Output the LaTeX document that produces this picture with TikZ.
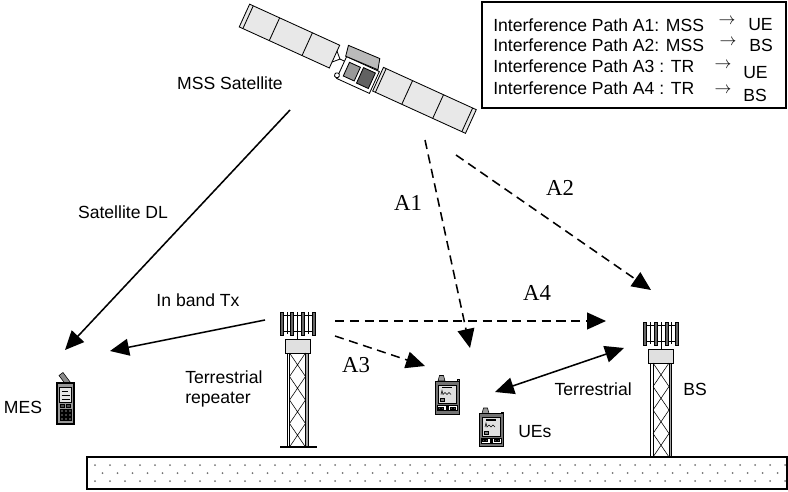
\documentclass[tikz,border=0pt]{standalone}
\usepackage{fontspec}
\setmainfont{Liberation Sans}
\newfontfamily\timesfont{Liberation Serif}
\usetikzlibrary{arrows.meta}

\tikzset{
  pics/mast/.style={code={
    % antenna array
    \draw (-16,3) -- (16,3) (-16,19) -- (16,19);
    \draw (-10.5,0) -- (-10.5,22) (10.5,0) -- (10.5,22);
    \draw (0,0) -- (0,27);
    \foreach \ax in {-16,-5.5,5.5,16}
      \draw[fill=black!60] (\ax-1.5,0) rectangle (\ax+1.5,23);
    % equipment box
    \draw[fill=black!12] (-12.5,27) rectangle (12.5,41);
    % lattice
    \draw[fill=white] (-10.5,41) rectangle (-8,135);
    \draw[fill=black!35] (8,41) rectangle (10.5,135);
    \foreach \ly in {41,64.5,88,111.5}
      \draw (-8,\ly) -- (8,\ly+23.5) (8,\ly) -- (-8,\ly+23.5);
  }},
  pics/pda/.style={code={
    \draw[fill=black!40] (-9,-16.5) -- (-7.5,-22) -- (-3.5,-22) -- (-2,-16.5) -- cycle;
    \draw[fill=black!40] (10,-18) rectangle (12.5,-14);
    \draw[fill=black!55] (-12,-16.5) rectangle (12,16.5);
    \draw[fill=black!12] (-9,-12.5) rectangle (9,6);
    \draw[line width=0.8pt] (-5,-10) -- (5,-10);
    \draw[line width=0.4pt] (-6,-3) -- (-5,-7) -- (-4,-3) -- (-2,-5) -- (0,-3) -- (2,-5) -- (4,-3);
    \draw[fill=black!50] (-7,1) rectangle (-3,4);
    \draw[fill=white] (-10,8) rectangle (10,13);
    \foreach \bx in {-8.5,-5.5,3.5,6.5}
      \draw[fill=black!70] (\bx,9.5) rectangle +(2,2);
    \fill (-1.5,8) rectangle (1.5,13);
  }}
}

\begin{document}
\begin{tikzpicture}[x=0.025cm,y=-0.025cm,
  txt/.style={inner sep=0pt,font=\fontsize{12.5}{14.2}\selectfont},
  alab/.style={inner sep=0pt,font=\timesfont\fontsize{16.2}{18}\selectfont},
  sig/.style={line width=1.1pt,-{Triangle[length=13.5pt,width=12pt]}},
  intf/.style={sig,dash pattern=on 6.5pt off 4pt},
  twoway/.style={line width=1.1pt,{Triangle[length=13.5pt,width=12pt]}-{Triangle[length=13.5pt,width=12pt]}}]

\useasboundingbox (0,0) rectangle (788,492);

% legend
\draw[line width=0.8pt] (482,2) rectangle (786,108);
\node[txt,anchor=base west] (leg1) at (493,31.5) {Interference Path A1: MSS};
\node[txt,anchor=base west] (leg2) at (493,51.5) {Interference Path A2: MSS};
\node[txt,anchor=base west] (leg3) at (493,73) {Interference Path A3 : TR};
\node[txt,anchor=base west] (leg4) at (493,94.5) {Interference Path A4 : TR};
\node[txt] (arr1) at (727,21) {$\rightarrow$};
\node[txt] (arr2) at (728,42) {$\rightarrow$};
\node[txt] (arr3) at (723,65) {$\rightarrow$};
\node[txt] (arr4) at (723,90) {$\rightarrow$};
\node[txt,anchor=west] (to1) at (748,25) {UE};
\node[txt,anchor=west] (to2) at (749,45) {BS};
\node[txt,anchor=west] (to3) at (743,73) {UE};
\node[txt,anchor=west] (to4) at (743,95) {BS};

% satellite
\begin{scope}[shift={(358,75)},rotate=-24.5,line width=0.6pt]
  \draw[fill=black!9] (-128,-19.5) rectangle (-29,5.5);
  \draw (-124,-19.5) -- (-124,5.5) (-95,-19.5) -- (-95,5.5) (-59,-19.5) -- (-59,5.5);
  \draw[fill=black!9] (20,-17.5) rectangle (122,8.5);
  \draw (23,-17.5) -- (23,8.5) (52,-17.5) -- (52,8.5) (86,-17.5) -- (86,8.5) (118,-17.5) -- (118,8.5);
  \draw (-29,-13) -- (-23,-7) -- (-29,-1) (-23,-7) -- (-18,-7);
  \draw[fill=white] (-18,-12) rectangle (18,12);
  \draw[fill=black!27] (-19,-12) -- (16,-13) -- (13,-24) -- (-21,-23) -- cycle;
  \draw[fill=black!40] (-13,-8) rectangle (-1,7);
  \draw[fill=black!62] (2,-9) rectangle (15,8);
  \draw[fill=white] (-19,9) circle (2.5);
\end{scope}

% towers
\pic at (297.5,312) {mast};
\draw[line width=0.8pt] (280,447) -- (317,447);
\pic at (661,322) {mast};

% user terminals
\pic at (447,397.5) {pda};
\pic at (491,430) {pda};

% MES handset
\begin{scope}[shift={(65.5,403.5)}]
  \draw[fill=black!45] (6.5,-19) -- (2.5,-16) -- (-6.5,-28) -- (-2.5,-31) -- cycle;
  \draw[fill=black!40] (5,-21) rectangle (8.5,-17);
  \draw[line width=0.9pt,fill=black!40] (-8.5,-20.5) rectangle (8.5,20.5);
  \draw[fill=black!10] (-6,-16) rectangle (6,-1);
  \draw (-4,-12) -- (2,-12) (-4,-8) -- (4,-8) (-4,-4) -- (4,-4);
  \foreach \bx in {-5,1}
    \draw[fill=black!70] (\bx,1) rectangle +(4,3);
  \foreach \kx in {-5.5,-1.5,2.5}
    \foreach \ky in {6,10,14}
      \draw[fill=black!75] (\kx,\ky) rectangle +(3,3);
\end{scope}

% ground
\draw[line width=0.9pt] (87,457) rectangle (787,489);
\foreach \dx in {95,110,...,785} {
  \fill[black!55] (\dx,465) circle (1);
  \fill[black!55] (\dx,481) circle (1);
}
\foreach \dx in {102.5,117.5,...,780}
  \fill[black!55] (\dx,473) circle (1);

% end points of the links
\coordinate (satdl) at (290,110);
\coordinate (mesdl) at (65,350);
\coordinate (reptx) at (265,320);
\coordinate (mestx) at (110,351);
\coordinate (sata1) at (425,140);
\coordinate (uea1) at (470,348);
\coordinate (sata2) at (456,155);
\coordinate (bsa2) at (651,290);
\coordinate (repa4) at (335,321);
\coordinate (bsa4) at (606,321);
\coordinate (repa3) at (335,336);
\coordinate (uea3) at (425,366);
\coordinate (uet) at (495,392);
\coordinate (bst) at (624,348);

\draw[sig] (satdl) -- (mesdl);
\draw[sig] (reptx) -- (mestx);
\draw[intf] (sata1) -- (uea1);
\draw[intf] (sata2) -- (bsa2);
\draw[intf] (repa4) -- (bsa4);
\draw[intf] (repa3) -- (uea3);
\draw[twoway] (uet) -- (bst);

% labels
\node[txt] (msslbl) at (230,83) {MSS Satellite};
\node[txt] (dllbl) at (123,212) {Satellite DL};
\node[txt] (txlbl) at (198,300) {In band Tx};
\node[txt,anchor=west,align=left] (replbl) at (185,389) {Terrestrial\\repeater};
\node[txt] (meslbl) at (23,407) {MES};
\node[txt,anchor=west] (uelbl) at (518,432) {UEs};
\node[txt,anchor=east] (terlbl) at (632,389) {Terrestrial};
\node[txt,anchor=west] (bslbl) at (683,389) {BS};
\node[alab] (a1) at (408,203) {A1};
\node[alab] (a2) at (560,188) {A2};
\node[alab] (a3) at (356,365) {A3};
\node[alab] (a4) at (537,293) {A4};
\end{tikzpicture}
\end{document}
